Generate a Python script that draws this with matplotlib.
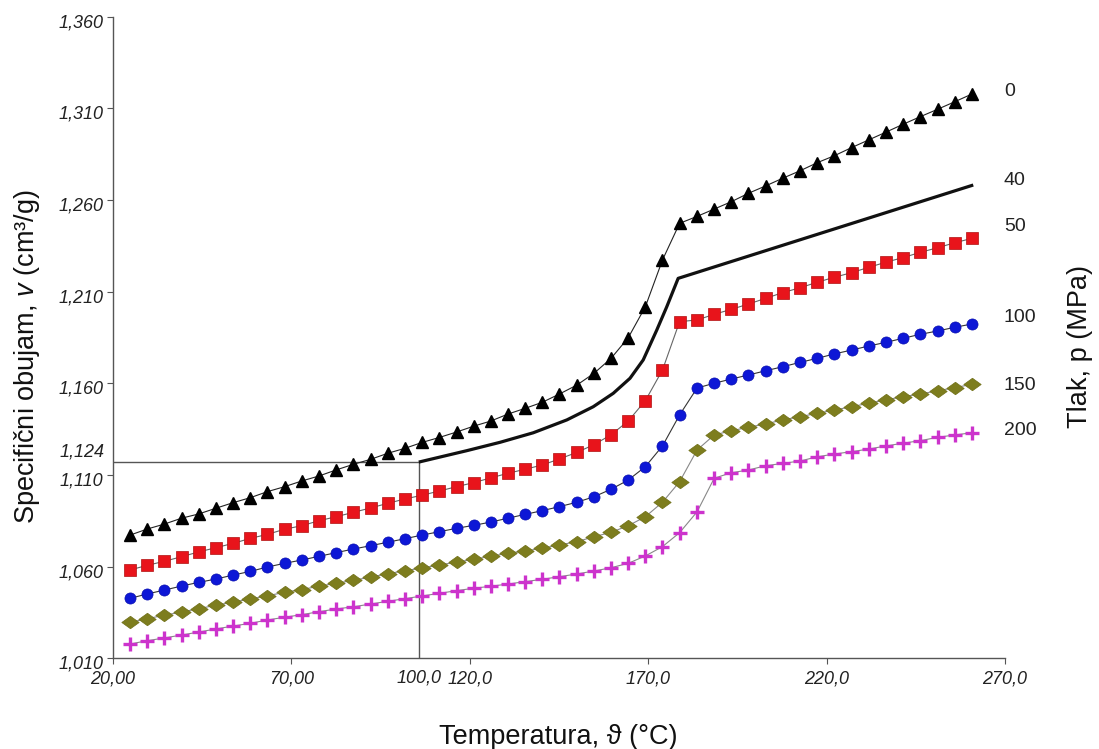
import matplotlib
matplotlib.use("Agg")
import matplotlib.pyplot as plt
import matplotlib.transforms as mtransforms
from matplotlib.path import Path

plt.rcParams['font.family'] = ['Liberation Sans', 'DejaVu Sans']
plt.rcParams['mathtext.fontset'] = 'custom'
plt.rcParams['mathtext.it'] = 'Liberation Sans:italic'
plt.rcParams['mathtext.rm'] = 'Liberation Sans'

# ---------------- data ----------------
temperature = [24.8, 29.6, 34.4, 39.2, 44.0, 48.8, 53.7, 58.5, 63.3, 68.1,
               72.9, 77.7, 82.5, 87.4, 92.2, 97.0, 101.8, 106.6, 111.4, 116.3,
               121.1, 125.9, 130.7, 135.5, 140.3, 145.1, 150.0, 154.8, 159.6, 164.4,
               169.2, 174.0, 178.8, 183.7, 188.5, 193.3, 198.1, 202.9, 207.7, 212.6,
               217.4, 222.2, 227.0, 231.8, 236.6, 241.4, 246.3, 251.1, 255.9, 260.7]

v_0 = [1.0772, 1.0805, 1.0832, 1.0864, 1.0887, 1.0918, 1.0949, 1.0976, 1.1009, 1.1036,
       1.1067, 1.1094, 1.1127, 1.1158, 1.1185, 1.1218, 1.1245, 1.1277, 1.1304, 1.1334,
       1.1366, 1.1394, 1.1432, 1.1463, 1.1496, 1.1541, 1.1590, 1.1654, 1.1736, 1.1848,
       1.2017, 1.2272, 1.2472, 1.2510, 1.2550, 1.2590, 1.2636, 1.2676, 1.2718, 1.2759,
       1.2803, 1.2841, 1.2885, 1.2927, 1.2969, 1.3012, 1.3054, 1.3094, 1.3135, 1.3177]

v_50 = [1.0582, 1.0607, 1.0629, 1.0654, 1.0680, 1.0703, 1.0727, 1.0754, 1.0776, 1.0804,
        1.0823, 1.0850, 1.0872, 1.0896, 1.0920, 1.0945, 1.0969, 1.0989, 1.1012, 1.1036,
        1.1058, 1.1084, 1.1109, 1.1131, 1.1154, 1.1187, 1.1223, 1.1265, 1.1319, 1.1394,
        1.1505, 1.1672, 1.1936, 1.1945, 1.1976, 1.2003, 1.2032, 1.2063, 1.2094, 1.2121,
        1.2151, 1.2178, 1.2203, 1.2232, 1.2260, 1.2285, 1.2314, 1.2339, 1.2366, 1.2390]

v_100 = [1.0427, 1.0451, 1.0472, 1.0494, 1.0514, 1.0532, 1.0554, 1.0574, 1.0598, 1.0618,
         1.0636, 1.0656, 1.0676, 1.0696, 1.0714, 1.0733, 1.0752, 1.0772, 1.0790, 1.0809,
         1.0825, 1.0843, 1.0864, 1.0885, 1.0905, 1.0927, 1.0951, 1.0981, 1.1022, 1.1072,
         1.1145, 1.1258, 1.1427, 1.1574, 1.1600, 1.1623, 1.1645, 1.1668, 1.1690, 1.1714,
         1.1736, 1.1760, 1.1781, 1.1803, 1.1823, 1.1845, 1.1867, 1.1885, 1.1905, 1.1923]

v_150 = [1.0296, 1.0316, 1.0335, 1.0352, 1.0371, 1.0389, 1.0407, 1.0423, 1.0441, 1.0460,
         1.0475, 1.0493, 1.0509, 1.0525, 1.0543, 1.0561, 1.0578, 1.0592, 1.0609, 1.0624,
         1.0640, 1.0656, 1.0673, 1.0685, 1.0700, 1.0718, 1.0736, 1.0763, 1.0787, 1.0823,
         1.0872, 1.0951, 1.1063, 1.1236, 1.1318, 1.1341, 1.1360, 1.1378, 1.1400, 1.1418,
         1.1436, 1.1454, 1.1472, 1.1491, 1.1509, 1.1527, 1.1541, 1.1559, 1.1576, 1.1594]

v_200 = [1.0178, 1.0196, 1.0211, 1.0227, 1.0243, 1.0260, 1.0276, 1.0291, 1.0309, 1.0324,
         1.0338, 1.0354, 1.0369, 1.0381, 1.0396, 1.0411, 1.0425, 1.0440, 1.0454, 1.0469,
         1.0482, 1.0493, 1.0505, 1.0518, 1.0531, 1.0545, 1.0560, 1.0576, 1.0594, 1.0618,
         1.0658, 1.0709, 1.0785, 1.0899, 1.1082, 1.1112, 1.1127, 1.1150, 1.1163, 1.1176,
         1.1199, 1.1214, 1.1227, 1.1241, 1.1258, 1.1273, 1.1287, 1.1305, 1.1318, 1.1330]

t_40 = [105.7, 119.1, 128.5, 137.8, 147.2, 154.6, 160.2, 164.9, 168.6, 172.4, 175.2, 178.4, 261.1]
v_40 = [1.1170, 1.1232, 1.1278, 1.1330, 1.1400, 1.1472, 1.1545, 1.1627, 1.1727, 1.1890, 1.2017, 1.2172, 1.2681]

# reading point (lines to the axes)
ref_t = 105.7
ref_v = 1.1170
ref_t_label = "100,0"
ref_v_label = "1,124"

pressure_labels = ["0", "40", "50", "100", "150", "200"]
pressure_label_v = [1.3189, 1.2708, 1.2454, 1.1956, 1.1590, 1.1345]

x_ticks = [20, 70, 120, 170, 220, 270]
x_tick_labels = ["20,00", "70,00", "120,0", "170,0", "220,0", "270,0"]
y_ticks = [1.010, 1.060, 1.110, 1.160, 1.210, 1.260, 1.310, 1.360]
y_tick_labels = ["1,010", "1,060", "1,110", "1,160", "1,210", "1,260", "1,310", "1,360"]

# ---------------- figure ----------------
fig = plt.figure(figsize=(10.99, 7.49), dpi=100)
ax = fig.add_axes([113 / 1099, 1 - 658.3 / 749, (1005 - 113) / 1099, (658.3 - 16.5) / 749])

flat_diamond = Path([(-1.0, 0.0), (0.0, 0.72), (1.0, 0.0), (0.0, -0.72), (-1.0, 0.0)],
                    [Path.MOVETO, Path.LINETO, Path.LINETO, Path.LINETO, Path.CLOSEPOLY])

ax.plot(temperature, v_200, color='#888888', lw=0.8, zorder=2)
ax.plot(temperature, v_200, ls='none', marker='+', ms=10, mew=2.4, color='#CC33CC', zorder=3)

ax.plot(temperature, v_150, color='#888888', lw=0.8, zorder=2)
ax.plot(temperature, v_150, ls='none', marker=flat_diamond, ms=12.5, color='#7D7D1E',
        mec='#6E6E15', mew=0.5, zorder=3)

ax.plot(temperature, v_100, color='#333333', lw=0.8, zorder=2)
ax.plot(temperature, v_100, ls='none', marker='o', ms=8, color='#0D17D6',
        mec='#0A10B0', mew=0.5, zorder=3)

ax.plot(temperature, v_50, color='#666666', lw=0.8, zorder=2)
ax.plot(temperature, v_50, ls='none', marker='s', ms=8.5, color='#E8141B',
        mec='#B01010', mew=0.5, zorder=3)

ax.plot(t_40, v_40, color='#111111', lw=2.3, zorder=3, solid_capstyle='butt')

ax.plot(temperature, v_0, color='#222222', lw=0.8, zorder=2)
ax.plot(temperature, v_0, ls='none', marker='^', ms=8.8, color='#000000', zorder=3)

# reference lines
ax.plot([20, ref_t], [ref_v, ref_v], color='#555555', lw=1.0, zorder=1)
ax.plot([ref_t, ref_t], [1.010, ref_v], color='#555555', lw=1.0, zorder=1)

ax.set_xlim(20, 270)
ax.set_ylim(1.010, 1.360)

for s in ['top', 'right']:
    ax.spines[s].set_visible(False)
for s in ['left', 'bottom']:
    ax.spines[s].set_color('#555555')
    ax.spines[s].set_linewidth(1.0)

ax.set_xticks(x_ticks)
ax.set_xticklabels(x_tick_labels)
ax.set_yticks(y_ticks)
ax.set_yticklabels(y_tick_labels)
ax.tick_params(axis='both', direction='out', length=4, width=0.8, color='#555555',
               labelsize=13, labelcolor='#222222')
ax.tick_params(axis='x', pad=5)
ax.tick_params(axis='y', pad=3)
for lab in ax.get_xticklabels() + ax.get_yticklabels():
    lab.set_fontstyle('italic')
offset = mtransforms.ScaledTranslation(0, -4 / 100, fig.dpi_scale_trans)
for lab in ax.get_yticklabels():
    lab.set_transform(lab.get_transform() + offset)

# annotation labels for reference point
ax.text(ref_t, 1.010, ref_t_label,
        transform=ax.transData + mtransforms.ScaledTranslation(0, -11 / 100, fig.dpi_scale_trans),
        ha='center', va='top', fontsize=13, fontstyle='italic', color='#222222', clip_on=False)
ax.text(20, ref_v, ref_v_label,
        transform=ax.transData + mtransforms.ScaledTranslation(-8 / 100, 10 / 100, fig.dpi_scale_trans),
        ha='right', va='center', fontsize=13, fontstyle='italic', color='#222222', clip_on=False)

# pressure labels on the right
for lab, yv in zip(pressure_labels, pressure_label_v):
    ax.text(269.7, yv, lab, ha='left', va='center', fontsize=14, color='#222222', clip_on=False)

fig.text(558 / 1099, 1 - 737 / 749, "Temperatura, \u03d1 (\u00b0C)", ha='center', va='center', fontsize=19.5,
         color='#111111')
fig.text(27 / 1099, 1 - 357 / 749, "Specifi\u010dni obujam, $\\it{v}$ (cm\u00b3/g)", ha='center', va='center',
         rotation=90, fontsize=19.5, color='#111111')
fig.text(1080 / 1099, 1 - 347 / 749, "Tlak, p (MPa)", ha='center', va='center', rotation=90, fontsize=19.5,
         color='#111111')

fig.savefig("out.png", dpi=100)
